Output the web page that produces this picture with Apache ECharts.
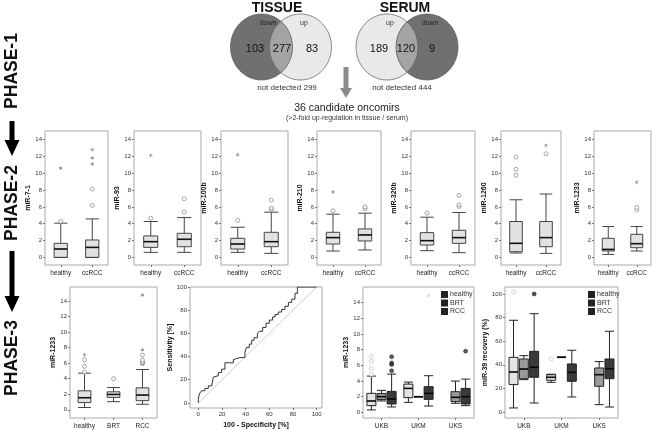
<!DOCTYPE html>
<html><head><meta charset="utf-8">
<script src="https://cdn.jsdelivr.net/npm/echarts@6/dist/echarts.min.js"></script>
<style>html,body{margin:0;padding:0;background:#fff}#c{width:662px;height:430px}</style>
</head><body><div id="c"></div>
<script>
// ---------------- DATA ----------------
// Phase 1 (Venn counts)
const vennTitles = ['TISSUE', 'SERUM'];
const tissueLabels = ['down', 'up'];
const tissueCounts = [103, 277, 83];      // down only, both, up only
const serumLabels = ['up', 'down'];
const serumCounts = [189, 120, 9];        // up only, both, down only
const notDetected = [299, 444];
const candidateText = ['36 candidate oncomirs', '(>2-fold up-regulation in tissue / serum)'];
const phaseNames = ['PHASE-1', 'PHASE-2', 'PHASE-3'];

// Phase 2 (boxplots: [min, Q1, median, Q3, max])
const phase2Genes = ['miR-7-1', 'miR-93', 'miR-100b', 'miR-210', 'miR-320b', 'miR-1260', 'miR-1233'];
const phase2Groups = ['healthy', 'ccRCC'];
const phase2Ticks = [0, 2, 4, 6, 8, 10, 12, 14];
const phase2Box = [
  [[0, 0, 1.0, 1.67, 4.06], [0, 0, 1.19, 2.07, 4.57]],
  [[0.6, 1.19, 1.87, 2.55, 4.26], [0.6, 1.27, 2.15, 2.86, 4.73]],
  [[0.6, 0.99, 1.59, 2.27, 3.58], [0.48, 1.27, 1.87, 2.98, 5.37]],
  [[0.76, 1.59, 2.35, 2.98, 5.13], [0.88, 1.95, 2.67, 3.38, 5.25]],
  [[0.8, 1.47, 1.99, 2.94, 4.77], [0.56, 1.67, 2.35, 3.22, 5.33]],
  [[0.52, 0.68, 1.67, 4.26, 6.84], [0.48, 1.27, 2.35, 4.26, 7.52]],
  [[0.36, 0.76, 0.95, 2.27, 3.66], [0.76, 1.15, 1.63, 2.74, 3.66]]
];
const phase2Circles = [
  [['healthy', 4.26], ['ccRCC', 6.17], ['ccRCC', 8.1]],
  [['healthy', 4.65], ['ccRCC', 5.37], ['ccRCC', 6.96]],
  [['healthy', 4.4], ['ccRCC', 5.7], ['ccRCC', 5.85], ['ccRCC', 6.8]],
  [['healthy', 5.53], ['ccRCC', 5.77], ['ccRCC', 6.0]],
  [['healthy', 5.25], ['ccRCC', 6.05], ['ccRCC', 6.25], ['ccRCC', 7.36]],
  [['healthy', 9.75], ['healthy', 10.45], ['healthy', 11.9], ['ccRCC', 12.3]],
  [['ccRCC', 5.65], ['ccRCC', 5.93]]
];
const phase2Stars = [
  [['healthy', 10.6], ['ccRCC', 11.1], ['ccRCC', 11.8], ['ccRCC', 12.8]],
  [['healthy', 12.1]],
  [['healthy', 12.2]],
  [['healthy', 7.76]],
  [],
  [['ccRCC', 13.3]],
  [['ccRCC', 8.9]]
];

// Phase 3a: miR-1233 by group
const p3Groups = ['healthy', 'BRT', 'RCC'];
const p3Box = [[0.3, 0.93, 1.56, 2.45, 4.72], [1.05, 1.6, 1.98, 2.32, 2.87], [0.72, 1.18, 1.9, 2.83, 5.19]];
const p3Circles = [['healthy', 4.85], ['healthy', 5.6], ['healthy', 6.45], ['BRT', 4.0],
  ['RCC', 5.95], ['RCC', 6.05], ['RCC', 6.15], ['RCC', 6.4], ['RCC', 7.04]];
const p3Stars = [['healthy', 7.1], ['RCC', 7.72], ['RCC', 14.76]];

// Phase 3b: ROC curve
const rocFpr = [0, 0.6, 1.4, 2.8, 5.6, 8.5, 11.3, 12.7, 12.7, 16.9, 19.7, 22.5, 25.4, 29.6, 31, 35.2, 39.4, 40.8, 43.1, 45.1, 47, 49.9, 51.5, 54.4, 57.2, 60, 62.8, 64.8, 67.6, 70.4, 73.2, 76.1, 78.9, 81.7, 83.7, 85.9, 100];
const rocTpr = [0, 3, 6.4, 8.6, 10.5, 12.5, 14.7, 15.2, 22.2, 23.5, 26.3, 29.1, 34.6, 34.6, 37.4, 39.1, 39.1, 43.8, 47.9, 50.7, 54, 56.2, 59.6, 61.8, 65.1, 68.7, 71.5, 74.2, 76.2, 78.4, 80.6, 83.4, 86.7, 89.5, 94.5, 100, 100];
const rocTicks = [0, 20, 40, 60, 80, 100];

// Phase 3c/d: by site
const sites = ['UKB', 'UKM', 'UKS'];
const siteSeries = ['healthy', 'BRT', 'RCC'];
const mirHealthyBox = [[0.3, 0.85, 1.44, 2.42, 4.62], [1.27, 1.87, 3.05, 3.6, 3.86], ['-', '-', '-', '-', '-']];
const mirBrtBox = [[1.45, 1.62, 2.0, 2.4, 2.8], [1.99, 1.99, 1.99, 1.99, 1.99], [1.15, 1.36, 1.91, 2.63, 3.99]];
const mirRccBox = [[0.68, 1.06, 1.7, 2.67, 4.88], [0.8, 1.65, 2.42, 3.27, 4.67], [0.85, 1.06, 1.99, 3.05, 4.24]];
const mirHealthyOut = [['UKB', 4.84], ['UKB', 5.6], ['UKB', 6.53], ['UKB', 7.17]];
const mirRccOut = [['UKB', 5.3], ['UKB', 6.1], ['UKB', 6.3], ['UKB', 7.1], ['UKS', 7.8]];
const mirRccStar = [['UKM', 14.9]];
const recHealthyBox = [[3.4, 23.2, 33.9, 46.3, 77.7], [25.1, 26.8, 29.4, 31.6, 32], ['-', '-', '-', '-', '-']];
const recBrtBox = [[27.4, 28.2, 36.4, 44.9, 47.7], [46.3, 46.3, 46.3, 46.3, 46.3], [6.2, 21.8, 31.6, 37.3, 42.7]];
const recRccBox = [[7.6, 29.4, 37.9, 51.4, 83.3], [12.7, 26, 33.6, 40.7, 52.3], [4.2, 28.2, 36.7, 44.9, 68.4]];
const recHealthyOut = [['UKB', 101.4], ['UKM', 44.9]];
const recRccOut = [['UKB', 100]];
const recTicks = [0, 20, 40, 60, 80, 100];

// ---------------- LAYOUT / STYLE ----------------
const FONT = '"Liberation Sans", Arial, Helvetica, sans-serif';
const p2L = [45, 134, 221, 317, 411, 501, 594];
const p2R = [108, 201, 288, 381, 475, 561, 651];
const p2NameGap = [10, 12, 9, 9, 11, 8, 9];
const seriesColors = { healthy: '#e4e4e4', BRT: '#9a9a9a', RCC: '#3a3a3a' };
const BOXPCT = 0.42;

function starPath() {
  let s = '';
  [90, 30, 150].forEach(a => {
    const r = a * Math.PI / 180, c = Math.cos(r), n = Math.sin(r), L = 5, W = 0.8;
    const pts = [[-L, -W], [L, -W], [L, W], [-L, W]].map(p => [5 + p[0] * c - p[1] * n, 5 + p[0] * n + p[1] * c]);
    s += 'M' + pts.map(p => p[0].toFixed(2) + ',' + p[1].toFixed(2)).join('L') + 'Z';
  });
  return 'path://' + s;
}
const STAR = starPath();

const grids = [], xAxes = [], yAxes = [], series = [];
function addGrid(l, t, w, h) {
  grids.push({ left: l, top: t, width: w, height: h, show: true, borderColor: '#a9a9a9', borderWidth: 1, backgroundColor: '#fff' });
  return grids.length - 1;
}
function valueY(gi, min, max, ticks, name, gap) {
  yAxes.push({
    type: 'value', gridIndex: gi, min: min, max: max, name: name, nameLocation: 'middle', nameRotate: 90, nameGap: gap,
    nameTextStyle: { fontFamily: FONT, fontSize: 7, fontWeight: 'bold', color: '#111' },
    axisLine: { show: false, onZero: false },
    axisTick: { show: true, length: 2, lineStyle: { color: '#777' }, customValues: ticks },
    axisLabel: { fontFamily: FONT, fontSize: 6, color: '#333', margin: 3, customValues: ticks },
    splitLine: { show: false }
  });
}
function catX(gi, cats) {
  xAxes.push({
    type: 'category', gridIndex: gi, data: cats,
    axisLine: { show: false, onZero: false },
    axisTick: { show: true, alignWithLabel: true, length: 2, lineStyle: { color: '#777' } },
    axisLabel: { fontFamily: FONT, fontSize: 6.5, color: '#222', margin: 5, interval: 0 },
    splitLine: { show: false }
  });
}
function outliers(ai, data, kind, color, offset) {
  const s = {
    type: 'scatter', xAxisIndex: ai, yAxisIndex: ai, data: data, silent: true, z: 5,
    symbolOffset: [offset || 0, 0]
  };
  if (kind === 'open') { s.symbol = 'circle'; s.symbolSize = 4; s.itemStyle = { color: '#fff', borderColor: color, borderWidth: 0.8 }; }
  else if (kind === 'filled') { s.symbol = 'circle'; s.symbolSize = 4; s.itemStyle = { color: color, borderColor: '#111', borderWidth: 0.6 }; }
  else { s.symbol = STAR; s.symbolSize = 3.6; s.itemStyle = { color: color }; }
  series.push(s);
}
// thick median bar on top of each box (taken from the box data)
function medians(ai, cats, boxes, width, offset) {
  const d = [];
  boxes.forEach((b, k) => { if (typeof b[2] === 'number') d.push([cats[k], b[2]]); });
  series.push({ type: 'scatter', xAxisIndex: ai, yAxisIndex: ai, data: d, silent: true, z: 4,
    symbol: 'rect', symbolSize: [width, 1.6], symbolOffset: [offset || 0, 0], itemStyle: { color: '#000' } });
}

// Phase 2 panels
phase2Genes.forEach((g, i) => {
  const w = p2R[i] - p2L[i];
  const gi = addGrid(p2L[i], 131, w, 134);
  catX(gi, phase2Groups);
  valueY(gi, -0.9, 15, phase2Ticks, g, p2NameGap[i]);
  series.push({ type: 'boxplot', xAxisIndex: gi, yAxisIndex: gi, data: phase2Box[i], boxWidth: [BOXPCT * 100 + '%', BOXPCT * 100 + '%'], silent: true,
    itemStyle: { color: '#e2e2e2', borderColor: '#444', borderWidth: 1 } });
  medians(gi, phase2Groups, phase2Box[i], w / 2 * BOXPCT);
  outliers(gi, phase2Circles[i], 'open', '#777');
  outliers(gi, phase2Stars[i], 'star', '#555');
});

// Phase 3a
(function () {
  const gi = addGrid(70, 287, 87, 133);
  catX(gi, p3Groups);
  valueY(gi, -1.05, 15.8, phase2Ticks, 'miR-1233', 8);
  series.push({ type: 'boxplot', xAxisIndex: gi, yAxisIndex: gi, data: p3Box, boxWidth: ['44%', '44%'], silent: true,
    itemStyle: { color: '#e2e2e2', borderColor: '#444', borderWidth: 1 } });
  medians(gi, p3Groups, p3Box, 87 / 3 * 0.44);
  outliers(gi, p3Circles, 'open', '#777');
  outliers(gi, p3Stars, 'star', '#555');
})();

// Phase 3b ROC
(function () {
  const gi = addGrid(190, 287, 132, 126);
  xAxes.push({
    type: 'value', gridIndex: gi, min: -7, max: 104.5, name: '100 - Specificity [%]', nameLocation: 'middle', nameGap: 14,
    nameTextStyle: { fontFamily: FONT, fontSize: 7, fontWeight: 'bold', color: '#111' },
    axisLine: { show: false, onZero: false },
    axisTick: { show: true, length: 2, lineStyle: { color: '#777' }, customValues: rocTicks },
    axisLabel: { fontFamily: FONT, fontSize: 6, color: '#333', margin: 3, customValues: rocTicks },
    splitLine: { show: false }
  });
  valueY(gi, -4.4, 100, rocTicks, 'Sensitivity [%]', 14);
  series.push({ type: 'line', xAxisIndex: gi, yAxisIndex: gi, data: [[0, 0], [100, 100]], symbol: 'none', silent: true,
    lineStyle: { color: '#cfcfcf', width: 1 } });
  series.push({ type: 'line', xAxisIndex: gi, yAxisIndex: gi, data: rocFpr.map((x, k) => [x, rocTpr[k]]), step: 'start',
    symbol: 'none', silent: true, lineStyle: { color: '#333', width: 1 } });
})();

// Phase 3c/d grouped boxplots
function groupedPanel(l, w, min, max, ticks, name, gap, hBox, bBox, rBox) {
  const gi = addGrid(l, 287, w, 131);
  catX(gi, sites);
  valueY(gi, min, max, ticks, name, gap);
  const band = w / sites.length, avail = band * 0.8 - 2, bgap = avail / 3 * 0.3, bw = (avail - bgap * 2) / 3;
  const off = [-(bw + bgap), 0, bw + bgap];
  [[hBox, 'healthy'], [bBox, 'BRT'], [rBox, 'RCC']].forEach(([d, nm], k) => {
    series.push({ type: 'boxplot', name: nm, xAxisIndex: gi, yAxisIndex: gi, data: d, boxWidth: [9, 9], silent: true,
      itemStyle: { color: seriesColors[nm], borderColor: '#222', borderWidth: 1 } });
    medians(gi, sites, d, 9, off[k]);
  });
  return { gi: gi, off: off };
}
const pc = groupedPanel(363, 111, -0.73, 16, phase2Ticks, 'miR-1233', 7, mirHealthyBox, mirBrtBox, mirRccBox);
outliers(pc.gi, mirHealthyOut, 'open', '#bbb', pc.off[0]);
outliers(pc.gi, mirRccOut, 'filled', '#333', pc.off[2]);
outliers(pc.gi, mirRccStar, 'star', '#bbb', pc.off[2]);
const pd = groupedPanel(505, 113, -5.1, 105.9, recTicks, 'miR-39 recovery (%)', 13, recHealthyBox, recBrtBox, recRccBox);
outliers(pd.gi, recHealthyOut, 'open', '#bbb', pd.off[0]);
outliers(pd.gi, recRccOut, 'filled', '#222', pd.off[2]);

// ---------------- GRAPHIC (Venn, labels, arrows) ----------------
const graphic = [];
function txt(x, y, text, size, opts) {
  opts = opts || {};
  graphic.push({ type: 'text', x: x, y: y, rotation: opts.rot || 0, z: 100,
    style: { text: text, fill: opts.fill || '#111', font: (opts.bold ? 'bold ' : '') + size + 'px ' + FONT,
      align: 'center', verticalAlign: 'middle', textAlign: 'center', textVerticalAlign: 'middle' } });
}
const DARK = '#707070', MID = '#a4a4a4', LIGHT = '#e9e9e9';
function venn(mid, cy, rx, ry, overlap, leftDark) {
  const d = 2 * rx - overlap, c1 = mid - d / 2, c2 = mid + d / 2;
  const lc = leftDark ? DARK : LIGHT, rc = leftDark ? LIGHT : DARK;
  graphic.push({ type: 'ellipse', shape: { cx: c1, cy: cy, rx: rx, ry: ry }, style: { fill: lc }, z: 1 });
  graphic.push({ type: 'ellipse', shape: { cx: c2, cy: cy, rx: rx, ry: ry }, style: { fill: rc }, z: 1 });
  const a = Math.acos(d / 2 / rx), pts = [];
  for (let k = 0; k <= 30; k++) { const t = -a + 2 * a * k / 30; pts.push([c1 + rx * Math.cos(t), cy + ry * Math.sin(t)]); }
  for (let k = 0; k <= 30; k++) { const t = Math.PI - a + 2 * a * k / 30; pts.push([c2 + rx * Math.cos(t), cy + ry * Math.sin(t)]); }
  graphic.push({ type: 'polygon', shape: { points: pts }, style: { fill: MID }, z: 2 });
  graphic.push({ type: 'ellipse', shape: { cx: c1, cy: cy, rx: rx, ry: ry }, style: { fill: null, stroke: leftDark ? '#555' : '#4d634d', lineWidth: 0.7 }, z: 3 });
  graphic.push({ type: 'ellipse', shape: { cx: c2, cy: cy, rx: rx, ry: ry }, style: { fill: null, stroke: leftDark ? '#4d634d' : '#555', lineWidth: 0.7 }, z: 3 });
}
venn(281, 47, 31, 33, 23, true);
venn(407, 47, 31, 33, 22, false);
txt(277, 8, vennTitles[0], 14, { bold: true });
txt(405, 8, vennTitles[1], 14, { bold: true });
txt(268, 23, tissueLabels[0], 7, { fill: '#222' });
txt(304, 23, tissueLabels[1], 7, { fill: '#333' });
txt(390, 23, serumLabels[0], 7, { fill: '#333' });
txt(430, 23, serumLabels[1], 7, { fill: '#222' });
txt(255, 49, String(tissueCounts[0]), 11);
txt(282, 49, String(tissueCounts[1]), 11);
txt(312, 49, String(tissueCounts[2]), 11);
txt(379, 49, String(serumCounts[0]), 11);
txt(406, 49, String(serumCounts[1]), 11);
txt(432, 49, String(serumCounts[2]), 11);
txt(287, 88, 'not detected ' + notDetected[0], 8, { fill: '#333' });
txt(402, 88, 'not detected ' + notDetected[1], 8, { fill: '#333' });
txt(347, 108, candidateText[0], 10.5, { fill: '#222' });
txt(347, 118.5, candidateText[1], 7, { fill: '#333' });
// gray arrow
graphic.push({ type: 'polygon', z: 5, shape: { points: [[343.5, 67], [348.5, 67], [348.5, 88], [352, 88], [346, 98], [340, 88], [343.5, 88]] }, style: { fill: '#8a8a8a' } });
// phase labels and black arrows
txt(12, 71, phaseNames[0], 17.5, { bold: true, rot: Math.PI / 2 });
txt(12, 203, phaseNames[1], 17.5, { bold: true, rot: Math.PI / 2 });
txt(12, 358, phaseNames[2], 17.5, { bold: true, rot: Math.PI / 2 });
graphic.push({ type: 'polygon', z: 5, shape: { points: [[9.5, 121], [14.5, 121], [14.5, 140], [19.5, 140], [12, 156], [4.5, 140], [9.5, 140]] }, style: { fill: '#000' } });
graphic.push({ type: 'polygon', z: 5, shape: { points: [[9.5, 251], [14.5, 251], [14.5, 296], [19.5, 296], [12, 312], [4.5, 296], [9.5, 296]] }, style: { fill: '#000' } });

const legendBase = { orient: 'vertical', icon: 'rect', itemWidth: 5, itemHeight: 5, itemGap: 1.5, padding: 0, selectedMode: false,
  data: siteSeries, textStyle: { fontFamily: FONT, fontSize: 7, color: '#333', padding: [0, 0, 0, -2] } };

const chart = echarts.init(document.getElementById('c'), null, { renderer: 'canvas' });
chart.setOption({
  animation: false,
  backgroundColor: '#fff',
  textStyle: { fontFamily: FONT },
  grid: grids, xAxis: xAxes, yAxis: yAxes, series: series,
  legend: [Object.assign({ left: 441, top: 291 }, legendBase), Object.assign({ left: 588, top: 291 }, legendBase)],
  graphic: graphic
});
</script></body></html>
